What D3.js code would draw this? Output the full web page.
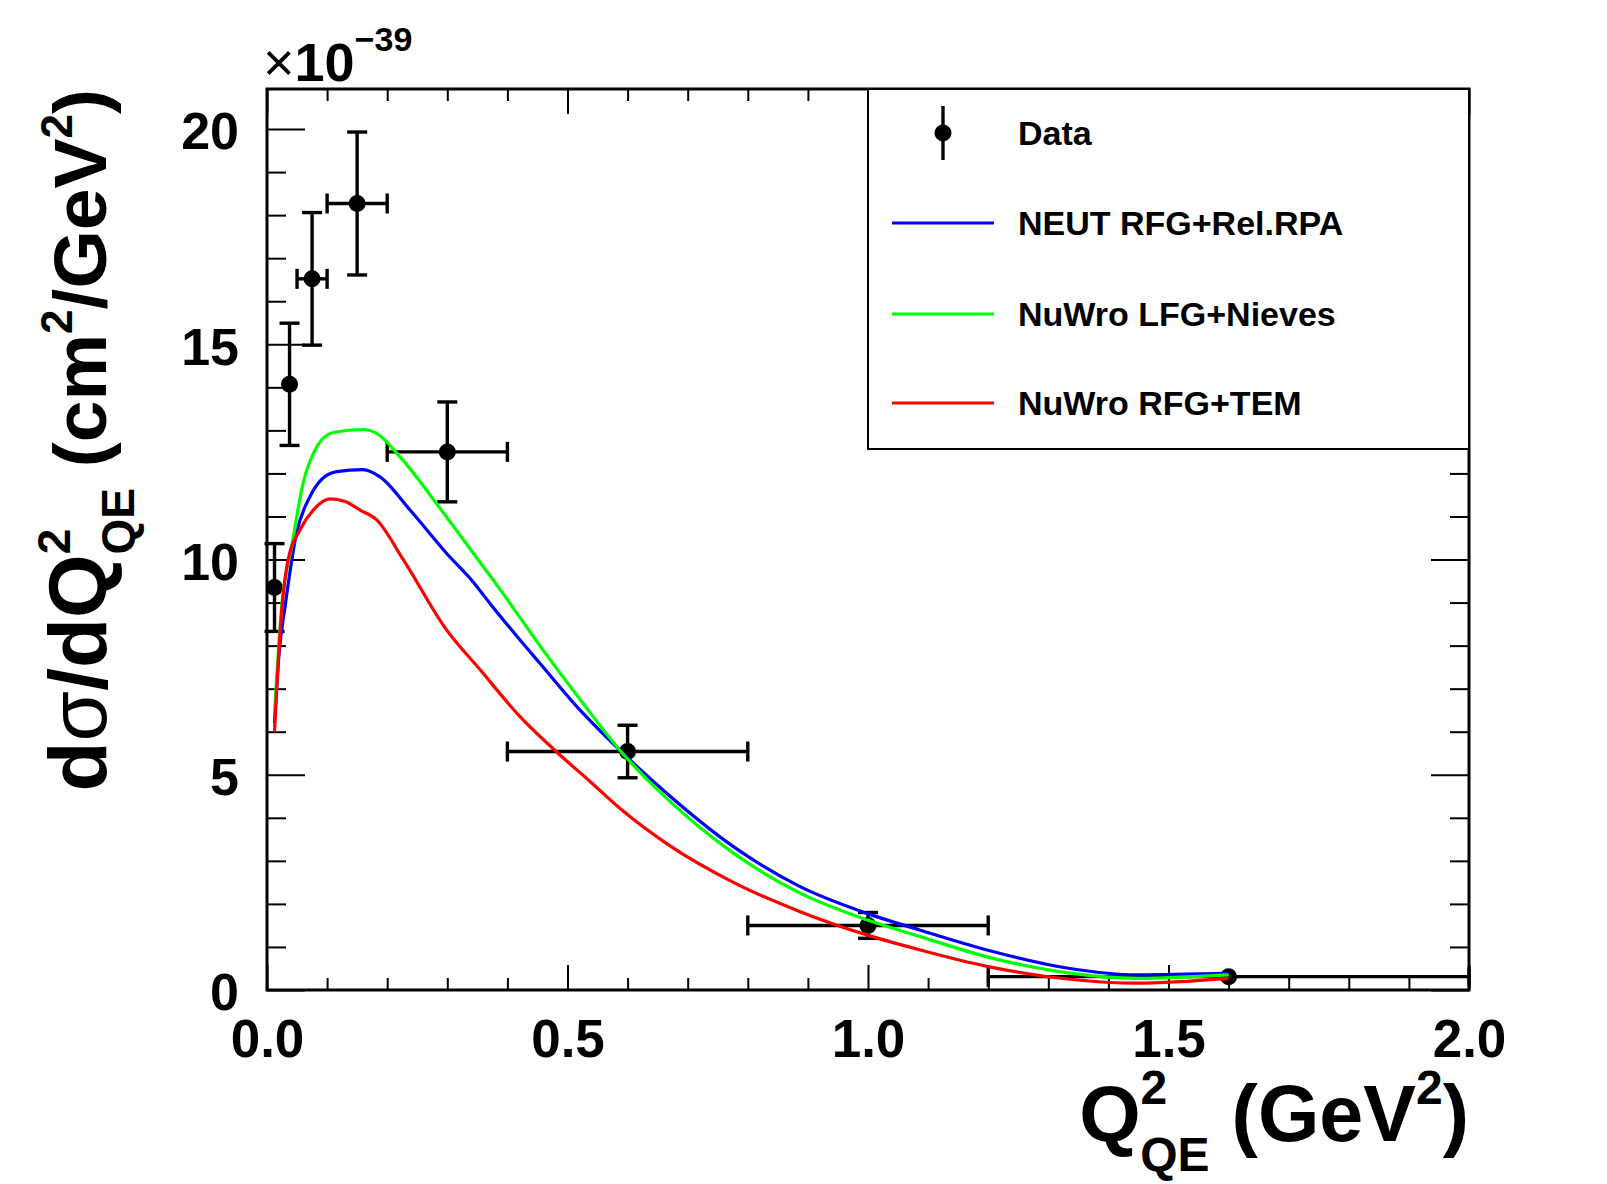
<!DOCTYPE html>
<html>
<head>
<meta charset="utf-8">
<script src="https://cdn.jsdelivr.net/npm/d3@7"></script>
<style>
  body { margin: 0; background: #fff; }
  svg { font-family: "Liberation Sans", Arial, Helvetica, sans-serif; }
</style>
</head>
<body>
<div id="chart"></div>
<script>
// data points (Q2 in GeV^2, dsigma/dQ2 in 1e-39 cm2/GeV2)
var dataX   = [0.0125, 0.0375, 0.075, 0.15, 0.3, 0.6, 1.0, 1.6];
var dataXLo = [0, 0.025, 0.05, 0.1, 0.2, 0.4, 0.8, 1.2];
var dataXHi = [0.025, 0.05, 0.1, 0.2, 0.4, 0.8, 1.2, 2.0];
var dataY   = [9.35, 14.07, 16.52, 18.27, 12.5, 5.54, 1.5, 0.31];
var dataErr = [1.02, 1.42, 1.54, 1.66, 1.16, 0.61, 0.3, 0.05];

// NEUT RFG+Rel.RPA
var neutX = [0.0125, 0.02, 0.03, 0.049, 0.0715, 0.09, 0.116, 0.16, 0.188, 0.238, 0.299, 0.343, 0.371, 0.421, 0.454, 0.521, 0.587, 0.665, 0.776, 0.887, 0.998, 1.087, 1.198, 1.336, 1.447, 1.6];
var neutY = [6.2, 7.8, 8.9, 10.6, 11.46, 11.85, 12.04, 12.09, 11.92, 11.15, 10.14, 9.48, 8.98, 8.13, 7.59, 6.5, 5.57, 4.57, 3.33, 2.40, 1.78, 1.39, 0.93, 0.50, 0.35, 0.39];

// NuWro LFG+Nieves
var lfgX = [0.0125, 0.025, 0.041, 0.06, 0.083, 0.11, 0.16, 0.1825, 0.221, 0.29, 0.343, 0.388, 0.421, 0.454, 0.521, 0.587, 0.665, 0.776, 0.887, 0.998, 1.087, 1.198, 1.336, 1.447, 1.6];
var lfgY = [6.4, 9.0, 10.3, 11.77, 12.62, 12.95, 13.02, 12.93, 12.39, 11.15, 10.15, 9.3, 8.65, 8.0, 6.75, 5.57, 4.45, 3.18, 2.25, 1.63, 1.24, 0.77, 0.39, 0.27, 0.35];

// NuWro RFG+TEM
var temX = [0.0125, 0.0216, 0.035, 0.055, 0.077, 0.105, 0.13, 0.155, 0.1825, 0.227, 0.299, 0.354, 0.421, 0.4875, 0.537, 0.593, 0.665, 0.776, 0.887, 0.998, 1.087, 1.198, 1.336, 1.447, 1.6];
var temY = [6.0, 8.28, 9.99, 10.69, 11.15, 11.41, 11.35, 11.15, 10.92, 9.99, 8.36, 7.45, 6.35, 5.46, 4.85, 4.15, 3.4, 2.5, 1.82, 1.28, 0.93, 0.55, 0.25, 0.16, 0.27];

var legendLabels = ["Data", "NEUT RFG+Rel.RPA", "NuWro LFG+Nieves", "NuWro RFG+TEM"];
var xMajor = [0, 0.5, 1.0, 1.5, 2.0];
var yMajor = [0, 5, 10, 15, 20];

var width = 1607, height = 1184;
var pLeft = 267, pRight = 1469, pTop = 89, pBottom = 990;

var svg = d3.select("#chart").append("svg")
  .attr("width", width)
  .attr("height", height);

svg.append("rect").attr("width", width).attr("height", height).attr("fill", "#fff");

var x = d3.scaleLinear().domain([0, 2]).range([pLeft, pRight]);
var y = d3.scaleLinear().domain([0, 20.93]).range([pBottom, pTop]);

var xMinor = d3.range(1, 20).map(function(i) { return i / 10; }).filter(function(v, i) { return (i + 1) % 5 != 0; });
var yMinor = d3.range(1, 21).filter(function(v) { return v % 5 != 0; });

function styleAxis(g) {
  g.select(".domain").remove();
  g.selectAll(".tick line").attr("stroke", "#000").attr("stroke-width", 2);
}

// bottom axis
svg.append("g").attr("transform", "translate(0," + pBottom + ")")
  .call(d3.axisBottom(x).tickValues(xMajor).tickSize(-25).tickPadding(29).tickFormat(d3.format(".1f")))
  .call(styleAxis)
  .selectAll("text")
    .attr("fill", "#000")
    .style("font-size", "53px")
    .style("font-weight", "bold");
svg.append("g").attr("transform", "translate(0," + pBottom + ")")
  .call(d3.axisBottom(x).tickValues(xMinor).tickSize(-12).tickFormat(""))
  .call(styleAxis);
// top axis
svg.append("g").attr("transform", "translate(0," + pTop + ")")
  .call(d3.axisTop(x).tickValues(xMajor).tickSize(-25).tickFormat(""))
  .call(styleAxis);
svg.append("g").attr("transform", "translate(0," + pTop + ")")
  .call(d3.axisTop(x).tickValues(xMinor).tickSize(-12).tickFormat(""))
  .call(styleAxis);

// left axis
svg.append("g").attr("transform", "translate(" + pLeft + ",0)")
  .call(d3.axisLeft(y).tickValues(yMajor).tickSize(-38).tickPadding(28).tickFormat(d3.format("d")))
  .call(styleAxis)
  .selectAll("text")
    .attr("fill", "#000")
    .attr("dy", "0.38em")
    .style("font-size", "52px")
    .style("font-weight", "bold");
svg.append("g").attr("transform", "translate(" + pLeft + ",0)")
  .call(d3.axisLeft(y).tickValues(yMinor).tickSize(-19).tickFormat(""))
  .call(styleAxis);
// right axis
svg.append("g").attr("transform", "translate(" + pRight + ",0)")
  .call(d3.axisRight(y).tickValues(yMajor).tickSize(-38).tickFormat(""))
  .call(styleAxis);
svg.append("g").attr("transform", "translate(" + pRight + ",0)")
  .call(d3.axisRight(y).tickValues(yMinor).tickSize(-19).tickFormat(""))
  .call(styleAxis);

// frame
svg.append("rect")
  .attr("x", pLeft).attr("y", pTop)
  .attr("width", pRight - pLeft).attr("height", pBottom - pTop)
  .attr("fill", "none").attr("stroke", "#000").attr("stroke-width", 3);

// data points with error bars
var r = 8.5, cap = 10;
var pts = dataX.map(function(d, i) {
  return { x: d, lo: dataXLo[i], hi: dataXHi[i], y: dataY[i], e: dataErr[i] };
});
var dg = svg.append("g").attr("stroke", "#000").attr("stroke-width", 3.4);
pts.forEach(function(p) {
  var cx = x(p.x), cy = y(p.y);
  if ((x(p.hi) - x(p.lo)) / 2 > r) {
    dg.append("line").attr("x1", x(p.lo)).attr("x2", x(p.hi)).attr("y1", cy).attr("y2", cy);
    dg.append("line").attr("x1", x(p.lo)).attr("x2", x(p.lo)).attr("y1", cy - cap).attr("y2", cy + cap);
    dg.append("line").attr("x1", x(p.hi)).attr("x2", x(p.hi)).attr("y1", cy - cap).attr("y2", cy + cap);
  }
  if (y(p.y - p.e) - y(p.y + p.e) > 2 * r) {
    dg.append("line").attr("x1", cx).attr("x2", cx).attr("y1", y(p.y + p.e)).attr("y2", y(p.y - p.e));
    dg.append("line").attr("x1", cx - cap).attr("x2", cx + cap).attr("y1", y(p.y + p.e)).attr("y2", y(p.y + p.e));
    dg.append("line").attr("x1", cx - cap).attr("x2", cx + cap).attr("y1", y(p.y - p.e)).attr("y2", y(p.y - p.e));
  }
});
svg.append("g").selectAll("circle")
  .data(pts).enter().append("circle")
  .attr("cx", function(d) { return x(d.x); })
  .attr("cy", function(d) { return y(d.y); })
  .attr("r", r)
  .attr("fill", "#000");

// model curves
var line = d3.line()
  .x(function(d) { return x(d[0]); })
  .y(function(d) { return y(d[1]); })
  .curve(d3.curveMonotoneX);

var series = [
  { xs: neutX, ys: neutY, color: "#0000ff" },
  { xs: lfgX, ys: lfgY, color: "#00ff00" },
  { xs: temX, ys: temY, color: "#ff0000" }
];
series.forEach(function(s) {
  svg.append("path")
    .datum(d3.zip(s.xs, s.ys))
    .attr("fill", "none")
    .attr("stroke", s.color)
    .attr("stroke-width", 3.2)
    .attr("d", line);
});

// legend
var lg = svg.append("g");
lg.append("rect")
  .attr("x", 868).attr("y", pTop)
  .attr("width", pRight - 868).attr("height", 449 - pTop)
  .attr("fill", "#fff").attr("stroke", "#000").attr("stroke-width", 2);
var legY = [133, 223, 314, 403];
var legColors = [null, "#0000ff", "#00ff00", "#ff0000"];
legendLabels.forEach(function(lab, i) {
  var yy = legY[i];
  if (i == 0) {
    lg.append("line").attr("x1", 943).attr("x2", 943).attr("y1", yy - 27).attr("y2", yy + 27)
      .attr("stroke", "#000").attr("stroke-width", 3.4);
    lg.append("circle").attr("cx", 943).attr("cy", yy).attr("r", r).attr("fill", "#000");
  } else {
    lg.append("line").attr("x1", 892).attr("x2", 994).attr("y1", yy).attr("y2", yy)
      .attr("stroke", legColors[i]).attr("stroke-width", 3);
  }
  lg.append("text")
    .attr("x", 1018).attr("y", yy + 12)
    .style("font-size", "34px").style("font-weight", "bold")
    .text(lab);
});

// x10^-39
var mult = svg.append("text").attr("x", 263).attr("y", 81).style("font-size", "54px");
mult.append("tspan").text("\u00d7");
mult.append("tspan").style("font-weight", "bold").text("10");
mult.append("tspan").attr("dy", -30).style("font-size", "34px").style("font-weight", "bold").text("\u221239");

// x axis title
var xt = svg.append("text")
  .attr("x", pRight).attr("y", 1141)
  .attr("text-anchor", "end")
  .style("font-size", "79px").style("font-weight", "bold");
xt.append("tspan").text("Q");
xt.append("tspan").attr("dy", -37).style("font-size", "48px").text("2");
xt.append("tspan").attr("dx", -27).attr("dy", 67).style("font-size", "48px").text("QE");
xt.append("tspan").attr("dy", -30).text(" (GeV");
xt.append("tspan").attr("dy", -37).style("font-size", "48px").text("2");
xt.append("tspan").attr("dy", 37).text(")");

// y axis title
var yt = svg.append("text")
  .attr("transform", "translate(106," + pTop + ") rotate(-90)")
  .attr("text-anchor", "end")
  .style("font-size", "75px").style("font-weight", "bold");
yt.append("tspan").style("font-size", "82px").text("d");
yt.append("tspan").style("font-size", "82px").style("font-weight", "normal").text("\u03c3");
yt.append("tspan").style("font-size", "82px").text("/dQ");
yt.append("tspan").attr("dy", -36).style("font-size", "46px").text("2");
yt.append("tspan").attr("dx", -26).attr("dy", 64).style("font-size", "46px").text("QE");
yt.append("tspan").attr("dy", -28).text(" (cm");
yt.append("tspan").attr("dy", -34).style("font-size", "44px").text("2");
yt.append("tspan").attr("dy", 34).text("/GeV");
yt.append("tspan").attr("dy", -34).style("font-size", "44px").text("2");
yt.append("tspan").attr("dy", 34).text(")");
</script>
</body>
</html>
